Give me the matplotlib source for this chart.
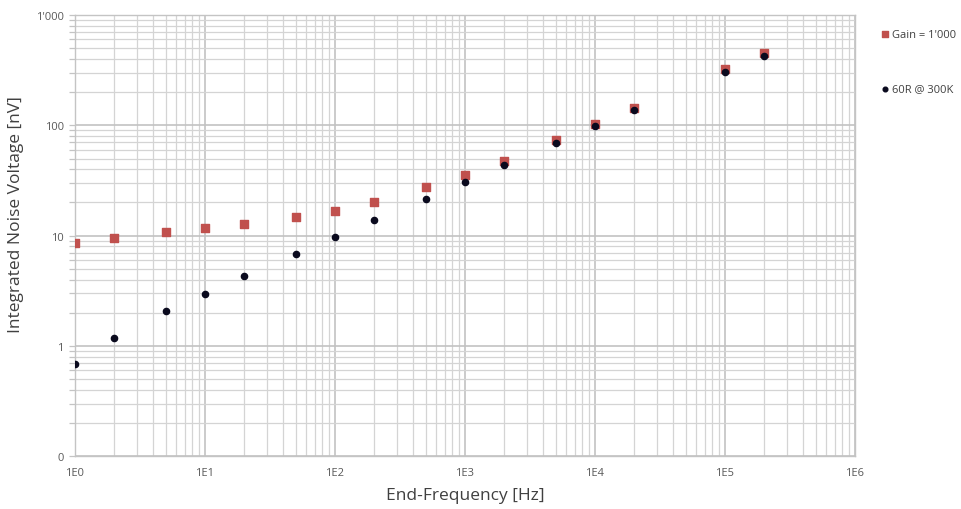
import matplotlib
matplotlib.use("Agg")
import matplotlib.pyplot as plt
from matplotlib.ticker import FixedLocator, FixedFormatter, LogLocator, NullFormatter

plt.rcParams['font.family'] = ['Open Sans', 'DejaVu Sans']

freq = [1, 2, 5, 10, 20, 50, 100, 200, 500, 1000, 2000, 5000, 1e4, 2e4, 1e5, 2e5]
gain_1000 = [8.5, 9.6, 10.8, 11.7, 12.8, 14.7, 16.9, 20.1, 27.7, 35.8, 47.6, 73.8, 103.8, 142.8, 323, 457]
r60_300k = [0.69, 1.19, 2.06, 2.98, 4.29, 6.88, 9.73, 13.8, 21.7, 30.7, 43.7, 68.8, 98.8, 137, 305, 428]

xticks = [1, 10, 100, 1e3, 1e4, 1e5, 1e6]
xticklabels = ['1E0', '1E1', '1E2', '1E3', '1E4', '1E5', '1E6']
yticks = [0.1, 1, 10, 100, 1000]
yticklabels = ['0', '1', '10', '100', "1'000"]

fig = plt.figure(figsize=(9.61, 5.10), dpi=100)
ax = fig.add_axes([0.078, 0.1033, 0.8117, 0.8653])
ax.set_xscale('log')
ax.set_yscale('log')
ax.set_xlim(1, 1e6)
ax.set_ylim(0.1, 1000)

ax.xaxis.set_major_locator(FixedLocator(xticks))
ax.xaxis.set_major_formatter(FixedFormatter(xticklabels))
ax.yaxis.set_major_locator(FixedLocator(yticks))
ax.yaxis.set_major_formatter(FixedFormatter(yticklabels))
ax.xaxis.set_minor_locator(LogLocator(base=10, subs=range(2, 10), numticks=20))
ax.yaxis.set_minor_locator(LogLocator(base=10, subs=range(2, 10), numticks=20))
ax.xaxis.set_minor_formatter(NullFormatter())
ax.yaxis.set_minor_formatter(NullFormatter())
ax.grid(which='major', color='#c2c2c2', linewidth=1.2)
ax.grid(which='minor', color='#d4d4d4', linewidth=0.9)
ax.set_axisbelow(True)
ax.tick_params(axis='x', which='both', length=0, labelsize=8, colors='#595959', pad=8)
ax.tick_params(axis='y', which='both', length=4, width=0.9, color='#c4c4c4',
               labelsize=8, labelcolor='#595959', pad=4)
for s in ax.spines.values():
    s.set_color('#c4c4c4')
    s.set_linewidth(1.0)

ax.scatter(freq, gain_1000, marker='s', s=38, color='#c0504d', label="Gain = 1'000", zorder=3)
ax.scatter(freq, r60_300k, marker='o', s=20, color='#0a0a1e', label='60R @ 300K', zorder=4)

ax.set_xlabel('End-Frequency [Hz]', fontsize=12.5, color='#404040', labelpad=6)
ax.set_ylabel('Integrated Noise Voltage [nV]', fontsize=12.5, color='#404040')
ax.yaxis.set_label_coords(-0.065, 0.55)

leg = fig.legend(loc='upper left', bbox_to_anchor=(0.915, 0.941), frameon=False,
                 borderaxespad=0, borderpad=0,
                 fontsize=8, labelspacing=3.9, handletextpad=0.15, handlelength=1.0,
                 markerscale=0.75, labelcolor='#404040')

fig.savefig('out.png', dpi=100)
